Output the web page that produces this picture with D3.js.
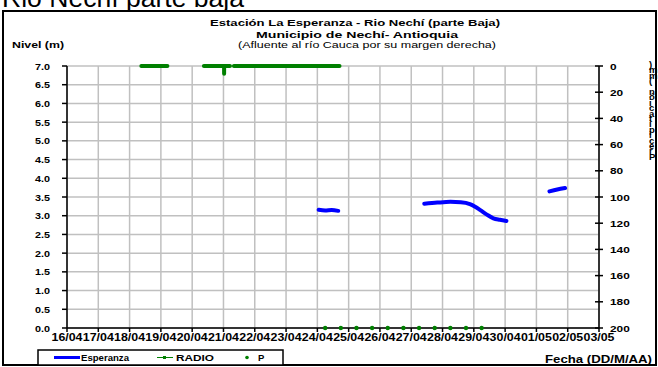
<!DOCTYPE html>
<html><head><meta charset="utf-8">
<script src="https://cdn.jsdelivr.net/npm/d3@7"></script>
<style>body{margin:0;background:#fff}svg{display:block;font-family:Arial,"Liberation Sans",sans-serif}</style>
</head><body><svg id="c" width="658" height="367"></svg>
<script>
// ---- data ----
const dayLabels = ["16/04","17/04","18/04","19/04","20/04","21/04","22/04","23/04","24/04","25/04","26/04","27/04","28/04","29/04","30/04","01/05","02/05","03/05"];
const levelTicks = [0,0.5,1,1.5,2,2.5,3,3.5,4,4.5,5,5.5,6,6.5,7];
const rainTicks = [0,20,40,60,80,100,120,140,160,180,200];

// Esperanza level (m); null = gap
const esperanzaTimes  = ["24/04 01:00","24/04 06:00","24/04 11:00","24/04 16:00","24/04 17:00",
  "27/04 10:00","27/04 20:00","28/04 06:00","28/04 14:00","28/04 21:00","29/04 01:00","29/04 05:00","29/04 10:00","29/04 15:00","29/04 20:00","30/04 01:00","30/04 02:00",
  "01/05 10:00","01/05 16:00","01/05 22:00"];
const esperanzaValues = [3.16,3.14,3.15,3.13,null,
  3.32,3.35,3.37,3.36,3.31,3.24,3.15,3.03,2.93,2.89,2.86,null,
  3.65,3.70,3.74];

// RADIO (mm, right axis); null = gap
const radioTimes  = ["18/04 09:00","19/04 05:00","19/04 06:00",
  "20/04 09:00","21/04 00:29","21/04 00:30","21/04 00:31","21/04 05:00","21/04 06:00",
  "21/04 08:00","24/04 17:00"];
const radioValues = [0,0,null, 0,0,6,0,0,null, 0,0];

// P (level axis)
const pTimes  = ["24/04 06:00","24/04 18:00","25/04 06:00","25/04 18:00","26/04 06:00","26/04 18:00","27/04 06:00","27/04 18:00","28/04 06:00","28/04 18:00","29/04 06:00"];
const pValues = [0,0,0,0,0,0,0,0,0,0,0];

// ---- chart ----
const parse = s => d3.timeParse("%d/%m/%Y %H:%M")(s.replace(" ", "/2011 "));
const parseDay = s => d3.timeParse("%d/%m/%Y")(s + "/2011");
const svg = d3.select("#c");
const L = 67, R = 599, T = 66, B = 328;
const x = d3.scaleTime().domain([parseDay(dayLabels[0]), parseDay(dayLabels[dayLabels.length-1])]).range([L, R]);
const y = d3.scaleLinear().domain([0, 7]).range([B, T]);
const y2 = d3.scaleLinear().domain([0, 200]).range([T, B]);

function txt(g, t, o) {
  const e = g.append("text").text(t)
    .attr("font-size", o.size).attr("font-weight", o.bold ? "bold" : "normal")
    .attr("fill", "#000");
  if (o.len) e.attr("textLength", o.len).attr("lengthAdjust", "spacingAndGlyphs");
  return e;
}

// frame
svg.append("rect").attr("x", 3).attr("y", 11).attr("width", 653).attr("height", 354)
  .attr("fill", "none").attr("stroke", "#000").attr("stroke-width", 2);
// clipped heading
txt(svg, "Rio Nechí parte baja", {size: 25, len: 242}).attr("x", 2).attr("y", 7);

// titles
txt(svg, "Estación La Esperanza - Rio Nechí  (parte Baja)", {size: 9.5, bold: true, len: 290}).attr("x", 210).attr("y", 26);
txt(svg, "Municipio de Nechí- Antioquia", {size: 9.5, bold: true, len: 202}).attr("x", 256).attr("y", 38);
txt(svg, "(Afluente al río Cauca por su margen derecha)", {size: 9.5, len: 258}).attr("x", 238).attr("y", 47.5);
txt(svg, "Nivel (m)", {size: 9.5, bold: true, len: 52}).attr("x", 12).attr("y", 48);
txt(svg, "Fecha (DD/M/AA)", {size: 11.5, bold: true, len: 107}).attr("x", 545).attr("y", 363);

// right vertical stacked title (one text, stacked characters)
const rt = "Precipitación (mm)".split("").reverse();
const rtText = svg.append("text").attr("font-size", 9.5).attr("font-weight", "bold").attr("fill", "#000");
rt.forEach((ch, i) => {
  rtText.append("tspan").attr("x", 649).attr("y", 68 + i * 5.4).text(ch);
});

// grid
const grid = svg.append("g").attr("stroke", "#c0c0c0").attr("stroke-width", 1.5);
levelTicks.forEach(v => grid.append("line").attr("x1", L).attr("x2", R).attr("y1", y(v)).attr("y2", y(v)));
dayLabels.forEach(d => grid.append("line").attr("x1", x(parseDay(d))).attr("x2", x(parseDay(d))).attr("y1", T).attr("y2", B));

// axes
const ax = svg.append("g").attr("stroke", "#000").attr("stroke-width", 1.5);
ax.append("line").attr("x1", L).attr("x2", L).attr("y1", T).attr("y2", B);
ax.append("line").attr("x1", R).attr("x2", R).attr("y1", T).attr("y2", B);
ax.append("line").attr("x1", L).attr("x2", R).attr("y1", B).attr("y2", B);
levelTicks.forEach(v => {
  ax.append("line").attr("x1", L - 5).attr("x2", L).attr("y1", y(v)).attr("y2", y(v));
  txt(svg, d3.format(".1f")(v), {size: 9, bold: true, len: 15}).attr("x", 50).attr("y", y(v) + 3.5).attr("text-anchor", "end");
});
rainTicks.forEach(v => {
  ax.append("line").attr("x1", R - 4).attr("x2", R + 4).attr("y1", y2(v)).attr("y2", y2(v));
  txt(svg, String(v), {size: 9.5, bold: true, len: String(v).length * 6.6}).attr("x", 610).attr("y", y2(v) + 3.5);
});
dayLabels.forEach(d => {
  const xx = x(parseDay(d));
  ax.append("line").attr("x1", xx).attr("x2", xx).attr("y1", B).attr("y2", B + 4);
  txt(svg, d, {size: 11.5, bold: true, len: 31}).attr("x", xx).attr("y", 341).attr("text-anchor", "middle");
});

// series
const esp = esperanzaTimes.map((t, i) => ({t: parse(t), v: esperanzaValues[i]}));
const rad = radioTimes.map((t, i) => ({t: parse(t), v: radioValues[i]}));
const pp = pTimes.map((t, i) => ({t: parse(t), v: pValues[i]}));

svg.append("path").datum(rad)
  .attr("d", d3.line().defined(d => d.v != null).x(d => x(d.t)).y(d => y2(d.v)))
  .attr("fill", "none").attr("stroke", "#008000").attr("stroke-width", 4)
  .attr("stroke-linecap", "round").attr("stroke-linejoin", "round");
svg.append("path").datum(esp)
  .attr("d", d3.line().defined(d => d.v != null).curve(d3.curveMonotoneX).x(d => x(d.t)).y(d => y(d.v)))
  .attr("fill", "none").attr("stroke", "#0000ff").attr("stroke-width", 4)
  .attr("stroke-linecap", "round").attr("stroke-linejoin", "round");
svg.append("g").selectAll("circle").data(pp).join("circle")
  .attr("cx", d => x(d.t)).attr("cy", d => y(d.v)).attr("r", 2.2).attr("fill", "#008000");

// legend
const lg = svg.append("g");
lg.append("rect").attr("x", 38).attr("y", 350).attr("width", 245).attr("height", 15)
  .attr("fill", "#fff").attr("stroke", "#000").attr("stroke-width", 1.5);
lg.append("line").attr("x1", 54).attr("x2", 80).attr("y1", 357.5).attr("y2", 357.5).attr("stroke", "#0000ff").attr("stroke-width", 3);
txt(lg, "Esperanza", {size: 9.5, bold: true, len: 48}).attr("x", 81).attr("y", 361);
lg.append("line").attr("x1", 157).attr("x2", 173).attr("y1", 357.5).attr("y2", 357.5).attr("stroke", "#008000").attr("stroke-width", 1);
lg.append("rect").attr("x", 163).attr("y", 356).attr("width", 3).attr("height", 3).attr("fill", "#008000");
txt(lg, "RADIO", {size: 9.5, bold: true, len: 38}).attr("x", 176).attr("y", 361);
lg.append("circle").attr("cx", 247).attr("cy", 357.5).attr("r", 1.8).attr("fill", "#008000");
txt(lg, "P", {size: 9.5, bold: true}).attr("x", 258).attr("y", 361);
</script></body></html>
